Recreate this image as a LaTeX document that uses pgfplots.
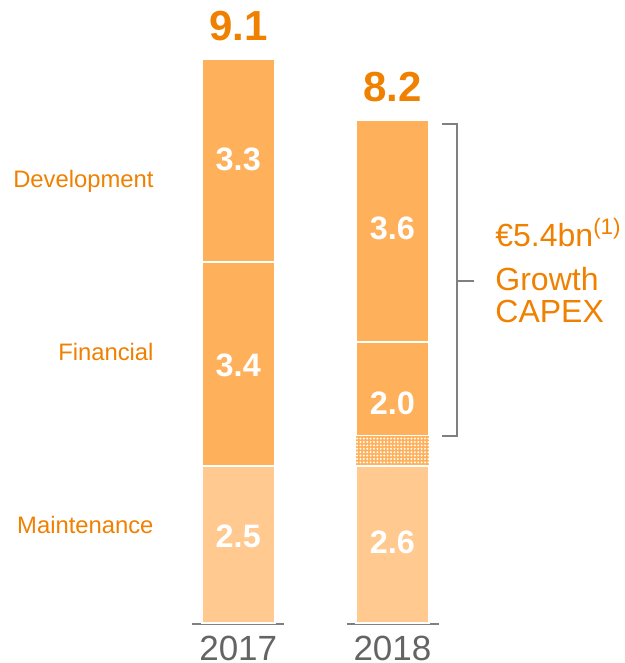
\documentclass[border=0pt]{standalone}
\usepackage{pgfplots}
\pgfplotsset{compat=1.18}
\usepackage{fontspec}
\setmainfont{Liberation Sans}
\usetikzlibrary{patterns}

\definecolor{segdark}{RGB}{255,176,90}
\definecolor{seglight}{RGB}{255,201,144}
\definecolor{txtorange}{RGB}{240,128,0}
\definecolor{lngrey}{RGB}{128,128,128}
\definecolor{yrgrey}{RGB}{100,100,100}

% fine dot grid for the dotted part of the 2018 bar
\pgfdeclarepatternformonly{finedots}{\pgfqpoint{-1pt}{-1pt}}{\pgfqpoint{1pt}{1pt}}{\pgfqpoint{1.7pt}{1.7pt}}{%
  \pgfpathcircle{\pgfpointorigin}{0.55pt}\pgfusepath{fill}}

\tikzset{
  valtxt/.style={text=white, font=\fontsize{16.2}{18}\selectfont\bfseries, inner sep=0pt},
  tottxt/.style={text=txtorange, font=\fontsize{21}{24}\selectfont\bfseries, inner sep=0pt},
  yrtxt/.style={anchor=base, text=yrgrey, font=\fontsize{17.5}{20}\selectfont, inner sep=0pt},
  cattxt/.style={anchor=base east, text=txtorange, font=\fontsize{11.9}{14}\selectfont, inner sep=0pt},
  captxt/.style={anchor=base west, text=txtorange, font=\fontsize{16}{19}\selectfont, inner sep=0pt},
}

\begin{document}
\begin{tikzpicture}
\begin{axis}[
  scale only axis,
  width=312.5pt, height=331.5pt,
  xmin=-1.545, xmax=2.508,
  ymin=-0.645, ymax=10.048,
  hide axis,
  clip=false,
  ybar stacked,
  bar width=0.473,
]
% keep the whole frame as the picture's extent
\path (rel axis cs:0,0) rectangle (rel axis cs:1,1);

% maintenance
\addplot[fill=seglight, draw=white, line width=1pt] coordinates {(0,2.53) (1,2.53)};
% financial, dotted part (2018 only)
\addplot[fill=segdark, draw=none,
  postaction={pattern=finedots, pattern color=white}]
  coordinates {(0,0) (1,0.48)};
% financial
\addplot[fill=segdark, draw=white, line width=1pt] coordinates {(0,3.29) (1,1.52)};
% development
\addplot[fill=segdark, draw=white, line width=1pt] coordinates {(0,3.28) (1,3.58)};

% anchors for the values inside the bars (drawn after the axis)
\coordinate (a1) at (axis cs:0,1.39);
\coordinate (a2) at (axis cs:0,4.15);
\coordinate (a3) at (axis cs:0,7.47);
\coordinate (b1) at (axis cs:1,1.30);
\coordinate (b2) at (axis cs:1,3.55);
\coordinate (b3) at (axis cs:1,6.36);

% totals
\node[tottxt] at (axis cs:0,9.62) {9.1};
\node[tottxt] at (axis cs:1,8.65) {8.2};

% baselines and years
\draw[lngrey, line width=1pt] (axis cs:-0.302,-0.016) -- (axis cs:0.298,-0.016);
\draw[lngrey, line width=1pt] (axis cs:0.703,-0.016) -- (axis cs:1.302,-0.016);
\node[yrtxt] at (axis cs:0,-0.597) {2017};
\node[yrtxt] at (axis cs:1,-0.597) {2018};

% category labels
\node[cattxt] at (axis cs:-0.547,7.03) {Development};
\node[cattxt] at (axis cs:-0.547,4.23) {Financial};
\node[cattxt] at (axis cs:-0.547,1.45) {Maintenance};

% growth capex bracket
\draw[lngrey, line width=1pt] (axis cs:1.319,8.05) -- (axis cs:1.418,8.05) -- (axis cs:1.418,3.02) -- (axis cs:1.319,3.02);
\draw[lngrey, line width=1pt] (axis cs:1.418,5.52) -- (axis cs:1.529,5.52);
\node[captxt] at (axis cs:1.665,6.07) {€5.4bn\textsuperscript{(1)}};
\node[captxt] at (axis cs:1.665,5.37) {Growth};
\node[captxt] at (axis cs:1.665,4.84) {CAPEX};
\end{axis}
\node[valtxt] at (a1) {2.5};
\node[valtxt] at (a2) {3.4};
\node[valtxt] at (a3) {3.3};
\node[valtxt] at (b1) {2.6};
\node[valtxt] at (b2) {2.0};
\node[valtxt] at (b3) {3.6};
\end{tikzpicture}
\end{document}
